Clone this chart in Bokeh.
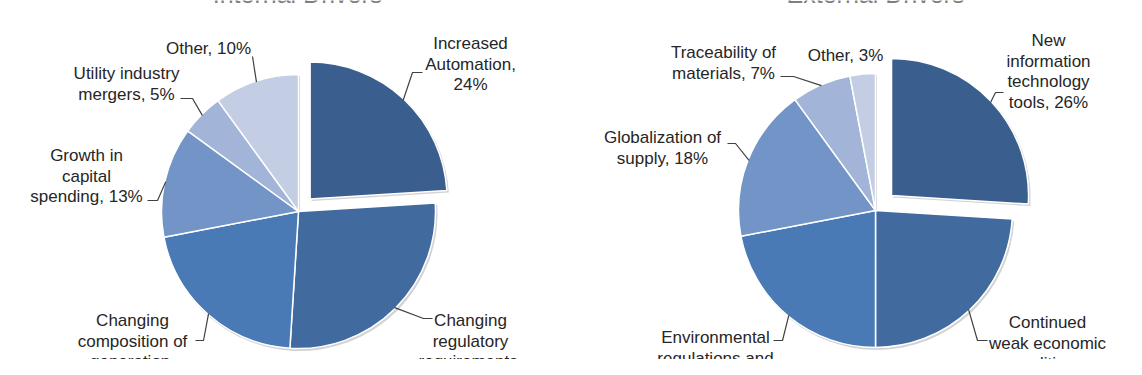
import math
from bokeh.plotting import figure
from bokeh.models import Range1d, ColumnDataSource
from bokeh.embed import file_html
from bokeh.resources import INLINE
from bokeh.core.properties import value

# ---------------- data ----------------
titles = ["Internal Drivers", "External Drivers"]

internal_categories = [
    "Increased\nAutomation",
    "Changing\nregulatory\nrequirements",
    "Changing\ncomposition of\ngeneration",
    "Growth in\ncapital\nspending",
    "Utility industry\nmergers",
    "Other",
]
internal_values = [24, 27, 21, 13, 5, 10]

external_categories = [
    "New\ninformation\ntechnology\ntools",
    "Continued\nweak economic\nconditions",
    "Environmental\nregulations and\nconcerns",
    "Globalization of\nsupply",
    "Traceability of\nmaterials",
    "Other",
]
external_values = [26, 24, 22, 18, 7, 3]

slice_colors = ["#3A5E8D", "#416A9F", "#4A7AB5", "#7294C6", "#A2B4D7", "#C3CEE4"]

# ---------------- layout (screen pixel coordinates) ----------------
internal_seps = [",\n", ",\n", ",\n", ", ", ", ", ", "]
external_seps = [", ", ",\n", ", ", ", ", ", ", ", "]

internal_label_pos = [(470, 43), (470, 320), (132, 320), (86, 155), (126, 73), (208, 48)]
external_label_pos = [(1048, 40), (1047, 322), (715, 337), (662, 137), (723, 52), (845, 55)]

internal_leaders = [((422, 72), (412, 72)), ((432, 318), (423, 318)), ((195, 340), (203, 340)),
                    ((147, 200), (157, 200)), ((180, 98), (192, 98)), ((252, 56), (252, 56))]
external_leaders = [((1003, 92), (995, 92)), ((987, 340), (977, 340)), ((773, 340), (782, 340)),
                    ((727, 143), (735, 143)), ((780, 76), (793, 76)), None]

W, H = 1126, 359
LINE_STEP = 20.5
TOP = 375


def sy(y):
    return TOP - y


p = figure(width=W, height=H, x_range=Range1d(0, W), y_range=Range1d(TOP - H, TOP),
           output_backend="svg", toolbar_location=None, x_axis_type=None, y_axis_type=None,
           min_border=0)
p.grid.visible = False
p.outline_line_color = None
p.background_fill_color = "white"
p.border_fill_color = "white"

tx, ty, tt = [], [], []
lead_xs, lead_ys = [], []


def draw_pie(cx, cy, r, explode, cats, vals, seps, lpos, leaders):
    total = float(sum(vals))
    acc = 0.0
    xs, ys, starts, ends = [], [], [], []
    for i, v in enumerate(vals):
        a0 = acc / total * 2 * math.pi
        acc += v
        a1 = acc / total * 2 * math.pi
        mid = (a0 + a1) / 2
        off = explode if i == 0 else 0.0
        x = cx + off * math.sin(mid)
        y = sy(cy) + off * math.cos(mid)
        xs.append(x)
        ys.append(y)
        starts.append(math.pi / 2 - a1)
        ends.append(math.pi / 2 - a0)
        if leaders[i] is not None:
            (lx, ly), (ex, ey) = leaders[i]
            ax = x + (r - 1) * math.sin(mid)
            ay = y + (r - 1) * math.cos(mid)
            lead_xs.append([lx, ex, ax])
            lead_ys.append([sy(ly), sy(ey), ay])
        label = cats[i] + seps[i] + f"{v}%"
        px, py = lpos[i]
        for k, line in enumerate(label.split("\n")):
            tx.append(px)
            ty.append(sy(py + k * LINE_STEP))
            tt.append(line)
    src = ColumnDataSource(dict(x=xs, y=ys, start=starts, end=ends, color=slice_colors[:len(vals)]))
    shadow = ColumnDataSource(dict(x=[a + 1.5 for a in xs], y=[b - 2.0 for b in ys],
                                   start=starts, end=ends))
    p.wedge(x="x", y="y", radius=r + 0.5, start_angle="start", end_angle="end",
            fill_color="#7f7f7f", fill_alpha=0.35, line_color=None, source=shadow)
    p.wedge(x="x", y="y", radius=r, start_angle="start", end_angle="end",
            fill_color="color", line_color="white", line_width=1.5, source=src)


draw_pie(298, 211, 137, 17, internal_categories, internal_values, internal_seps,
         internal_label_pos, internal_leaders)
draw_pie(875, 210, 137, 22, external_categories, external_values, external_seps,
         external_label_pos, external_leaders)

p.multi_line(xs=lead_xs, ys=lead_ys, line_color="#404040", line_width=1.2)

p.text(x=tx, y=ty, text=tt, text_align="center", text_baseline="middle",
       text_font=value("Liberation Sans"), text_font_size="17px", text_color="#262626")

p.text(x=[297, 875], y=[sy(-7), sy(-7)], text=titles, text_align="center",
       text_baseline="alphabetic", text_font=value("Liberation Sans"),
       text_font_size="25px", text_color="#7f7f7f")

open("out.html", "w").write(file_html(p, INLINE))
